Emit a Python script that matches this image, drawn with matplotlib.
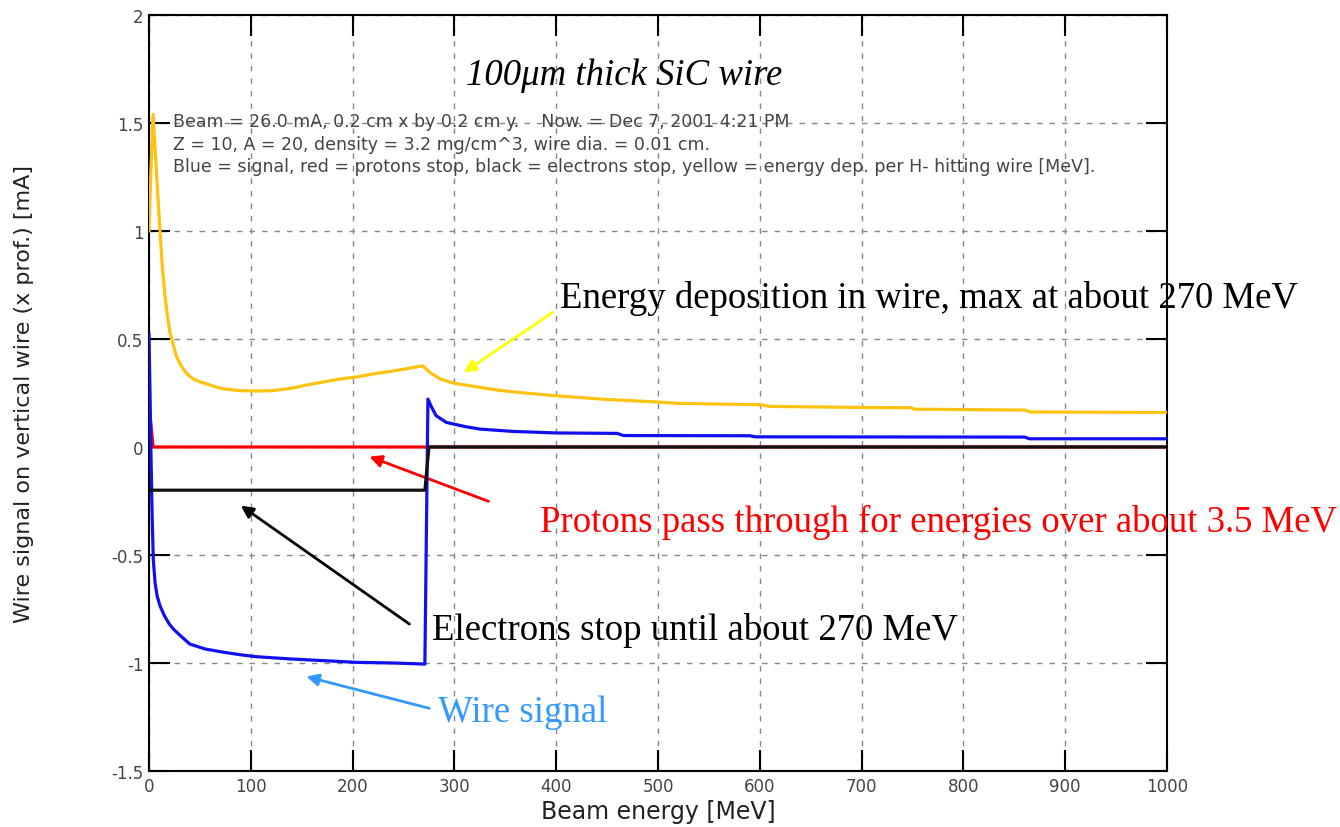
import matplotlib.pyplot as plt

# energy deposition per H- hitting wire (yellow)
dep_energy = [0, 2, 4, 6, 8.5, 10.8, 13, 15.7, 18, 20.6, 24, 27, 30, 33.7, 38, 43.6, 50, 56.7,
              65, 73, 89, 105, 122, 140, 155, 170, 188, 205, 220, 240, 255, 262, 269, 276,
              286, 300, 320, 340, 360, 400, 450, 500, 520, 555, 600, 610, 700, 748, 752,
              860, 866, 1000]
dep_value = [1.0, 1.3, 1.54, 1.38, 1.18, 1.0, 0.84, 0.70, 0.61, 0.53, 0.47, 0.42, 0.39, 0.361,
             0.335, 0.315, 0.302, 0.292, 0.279, 0.269, 0.261, 0.259, 0.261, 0.272, 0.287, 0.30,
             0.315, 0.325, 0.338, 0.352, 0.364, 0.37, 0.376, 0.345, 0.315, 0.295, 0.28, 0.265,
             0.254, 0.237, 0.22, 0.208, 0.202, 0.199, 0.196, 0.188, 0.183, 0.182, 0.175,
             0.171, 0.162, 0.160]

# wire signal (blue)
sig_energy = [0, 1, 2, 3, 4.2, 6, 8, 10.8, 15, 20, 24, 30, 40, 55, 73, 90, 106, 138, 171, 204,
              240, 271, 274, 277, 282, 292, 310, 325, 358, 400, 460, 466, 590, 596, 860, 865, 1000]
sig_value = [0.52, 0.25, -0.05, -0.3, -0.52, -0.63, -0.69, -0.735, -0.78, -0.82, -0.843, -0.87,
             -0.912, -0.935, -0.95, -0.962, -0.971, -0.981, -0.989, -0.997, -1.0, -1.005, 0.222,
             0.19, 0.145, 0.114, 0.095, 0.083, 0.072, 0.065, 0.063, 0.053, 0.052, 0.047, 0.046,
             0.038, 0.038]

# protons stop (red)
prot_energy = [0, 4, 1000]
prot_value = [0.2, 0.0, 0.0]

# electrons stop (black)
elec_energy = [0, 271, 275, 1000]
elec_value = [-0.2, -0.2, 0.0, 0.0]

x_ticks = [0, 100, 200, 300, 400, 500, 600, 700, 800, 900, 1000]
y_ticks = [-1.5, -1, -0.5, 0, 0.5, 1, 1.5, 2]
y_tick_labels = ['-1.5', '-1', '-0.5', '0', '0.5', '1', '1.5', '2']

info_lines = [
    'Beam = 26.0 mA, 0.2 cm x by 0.2 cm y.    Now. = Dec 7, 2001 4:21 PM',
    'Z = 10, A = 20, density = 3.2 mg/cm^3, wire dia. = 0.01 cm.',
    'Blue = signal, red = protons stop, black = electrons stop, yellow = energy dep. per H- hitting wire [MeV].',
]

serif = 'Liberation Serif'
big = 26.5

fig = plt.figure(figsize=(13.4, 8.28), dpi=100)
ax = fig.add_axes([149 / 1340, 56 / 828, 1018 / 1340, 756 / 828])

ax.plot(dep_energy, dep_value, color='#ffc20e', lw=2.3, zorder=3)
ax.plot(prot_energy, prot_value, color='#ff0000', lw=2.3, zorder=3)
ax.plot(sig_energy, sig_value, color='#1010f0', lw=2.3, zorder=4)
ax.plot(elec_energy, elec_value, color='#111111', lw=2.3, zorder=5)

ax.set_xlim(0, 1000)
ax.set_ylim(-1.5, 2)
ax.set_xticks(x_ticks)
ax.set_yticks(y_ticks)
ax.set_yticklabels(y_tick_labels)
ax.grid(True, color='#888888', lw=1.0, linestyle=(0, (4, 5)))
ax.tick_params(direction='in', length=15, width=1.5, top=True, right=True,
               labelsize=12, labelcolor='#444444', pad=4)
for s in ax.spines.values():
    s.set_linewidth(1.5)

ax.set_xlabel('Beam energy [MeV]', fontsize=17, color='#222222', labelpad=3)
ax.set_ylabel('Wire signal on vertical wire (x prof.) [mA]', fontsize=16, color='#222222')
ax.yaxis.set_label_coords(-0.113, 0.5)

# title inside the plot
ax.text(467, 1.68, '100\u03bcm thick SiC wire', family=serif, style='italic',
        fontsize=big, ha='center', va='baseline')

for i, line in enumerate(info_lines):
    ax.text(24, 1.51 - i * 0.105, line, fontsize=12.5, color='#444444', va='center')

# annotations
ax.text(404, 0.648, 'Energy deposition in wire, max at about 270 MeV', family=serif,
        fontsize=big, color='black', va='baseline', clip_on=False)
ax.annotate('', xy=(307, 0.338), xytext=(399, 0.631),
            arrowprops=dict(arrowstyle='-|>', color='#ffff00', lw=2, mutation_scale=18))

ax.text(1167, -0.389, 'Protons pass through for energies over about 3.5 MeV', family=serif,
        fontsize=big, color='#ff0000', ha='right', va='baseline', clip_on=False)
ax.annotate('', xy=(214, -0.04), xytext=(336, -0.256),
            arrowprops=dict(arrowstyle='-|>', color='#ff0000', lw=2, mutation_scale=18))

ax.text(278, -0.889, 'Electrons stop until about 270 MeV', family=serif,
        fontsize=big, color='black', va='baseline')
ax.annotate('', xy=(88, -0.264), xytext=(258, -0.827),
            arrowprops=dict(arrowstyle='-|>', color='black', lw=2, mutation_scale=18))

ax.text(284, -1.268, 'Wire signal', family=serif, fontsize=big, color='#3399ff', va='baseline')
ax.annotate('', xy=(152, -1.06), xytext=(278, -1.213),
            arrowprops=dict(arrowstyle='-|>', color='#3399ff', lw=2, mutation_scale=18))

fig.savefig('out.png', dpi=100)
